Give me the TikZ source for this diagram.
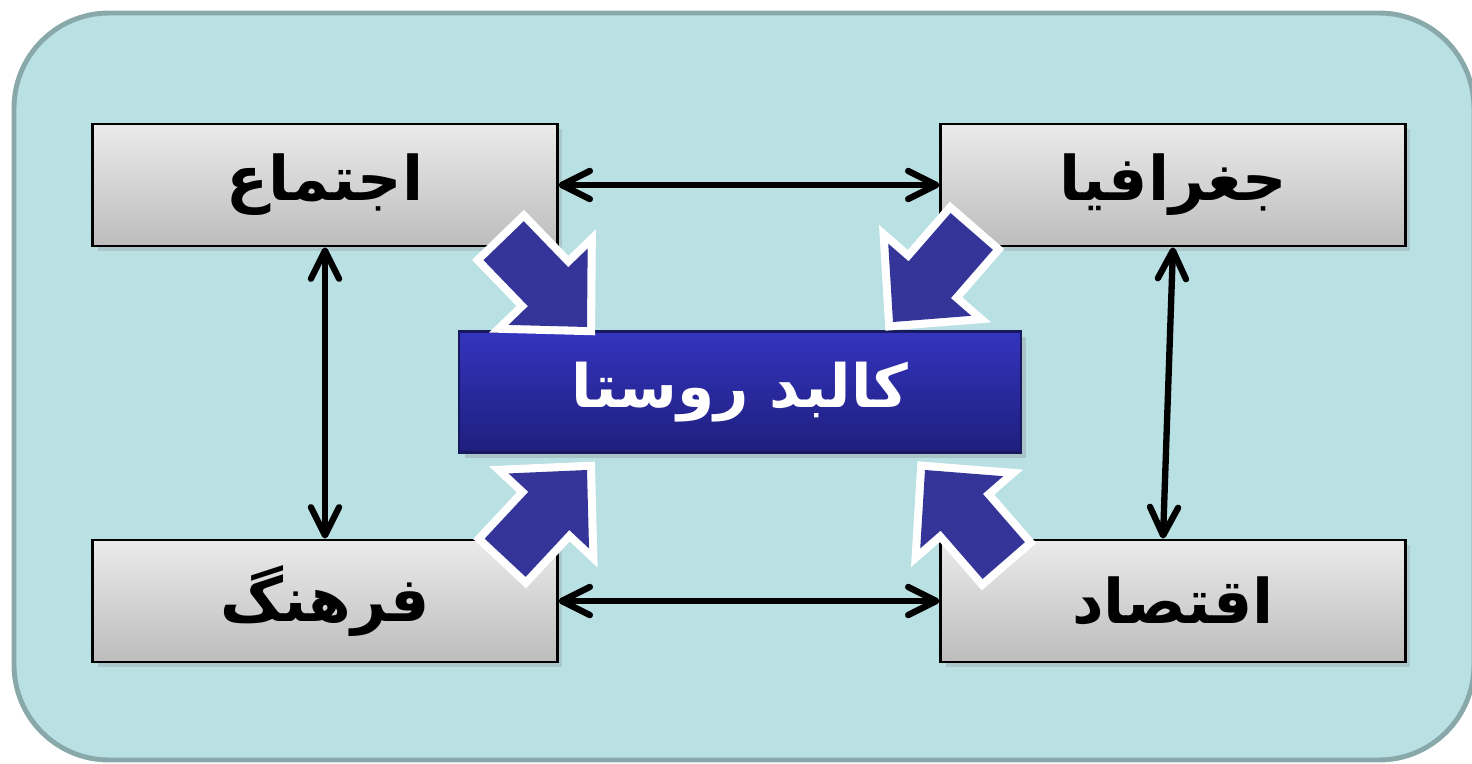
\documentclass[tikz,border=0pt]{standalone}
\usepackage{fontspec}
\usetikzlibrary{arrows.meta,shadows}
\newfontfamily\arabicfont[Script=Arabic]{DejaVu Sans}
\TeXXeTstate=1
\definecolor{panelfill}{RGB}{185,224,227}
\definecolor{paneledge}{RGB}{136,168,170}
\definecolor{arrowblue}{RGB}{53,53,153}
\definecolor{coretop}{RGB}{52,52,190}
\definecolor{coremid}{RGB}{40,40,165}
\definecolor{corebot}{RGB}{30,30,125}
\definecolor{coreedge}{RGB}{25,25,95}

\tikzset{
  topic/.style={draw=black, line width=0.8pt, top color=black!8, bottom color=black!26,
    minimum width=4.64cm, minimum height=1.22cm,
    font=\arabicfont\bfseries\fontsize{17.5}{21}\selectfont,
    drop shadow={shadow xshift=1.5pt, shadow yshift=-1.5pt, opacity=0.25}},
  core/.style={draw=coreedge, line width=0.6pt, top color=coretop, middle color=coremid, bottom color=corebot,
    minimum width=5.61cm, minimum height=1.21cm, text=white,
    font=\arabicfont\bfseries\fontsize{17}{21}\selectfont,
    drop shadow={shadow xshift=1.5pt, shadow yshift=-1.5pt, opacity=0.3}},
  link/.style={{Straight Barb[round,length=8pt,width=8pt]}-{Straight Barb[round,length=8pt,width=8pt]},
    line width=1.8pt},
  bigarrow/.pic={
    \path[fill=arrowblue, preaction={draw=white, line width=4.6pt, line join=miter}]
      (0,0) -- (-56,55) -- (-56,28) -- (-120,28) -- (-120,-28) -- (-56,-28) -- (-56,-55) -- cycle;
  }
}

\begin{document}
\begin{tikzpicture}[x=0.01cm, y=0.01cm]
  \useasboundingbox (0,0) rectangle (1472,763);
  \draw[fill=panelfill, draw=paneledge, line width=1.4pt, rounded corners=0.95cm] (14,3) rectangle (1474,750);

  % the four topics
  \node[topic] (ejtema) at (325,578) {\beginR اجتماع\endR};
  \node[topic] (joghrafia) at (1173,578) {\beginR جغرافیا\endR};
  \node[topic] (farhang) at (325,162) {\beginR فرهنگ\endR};
  \node[topic] (eqtesad) at (1173,162) {\beginR اقتصاد\endR};

  \node[core] (kalbad) at (740,371) {\beginR کالبد روستا\endR};

  % links between topics
  \draw[link] (ejtema) -- (joghrafia);
  \draw[link] (farhang) -- (eqtesad);
  \draw[link] (ejtema) -- (farhang);
  \draw[link] (joghrafia.south) -- ([xshift=-0.1cm]eqtesad.north);

  % big arrows into the centre
  \pic[rotate=-46] at (587,436) {bigarrow};
  \pic[rotate=-131] at (893,441) {bigarrow};
  \pic[rotate=47] at (587,293) {bigarrow};
  \pic[rotate=131] at (925,293) {bigarrow};
\end{tikzpicture}
\end{document}
